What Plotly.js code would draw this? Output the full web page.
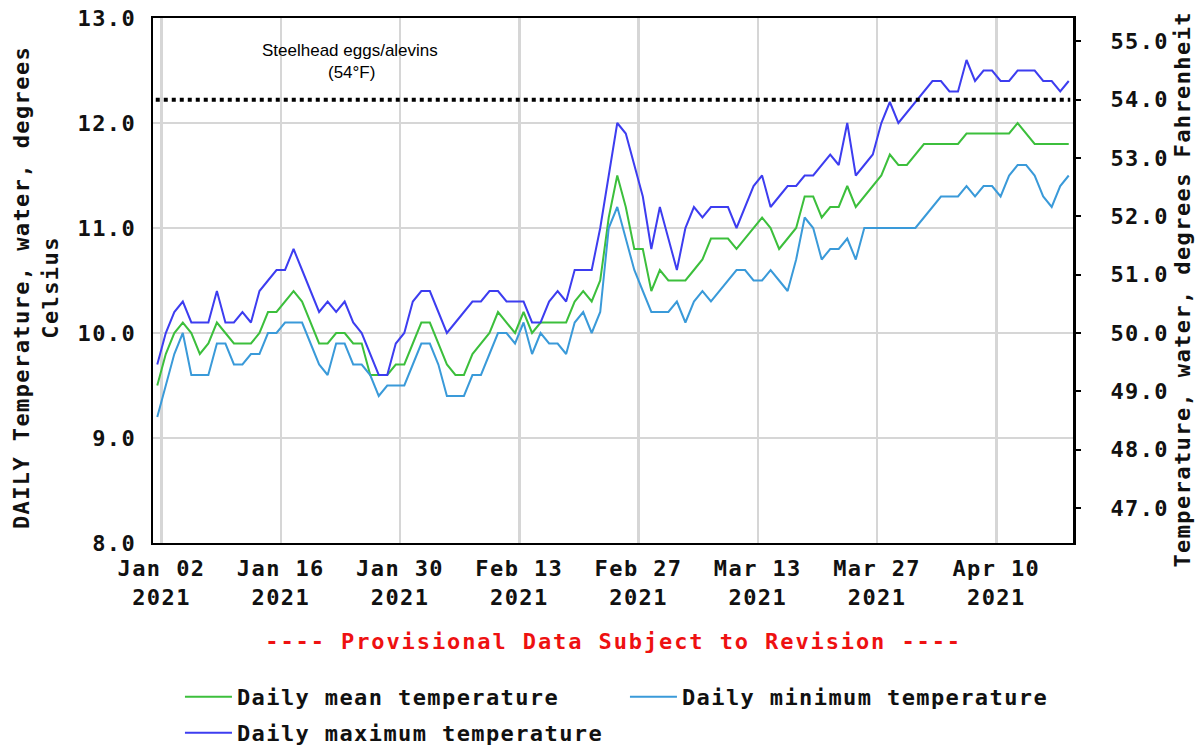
<!DOCTYPE html>
<html>
<head>
<meta charset="utf-8">
<script src="https://cdn.plot.ly/plotly-3.0.1.min.js"></script>
<style>
  html, body { margin: 0; padding: 0; background: #fff; }
  #chart { width: 1197px; height: 748px; }
  .xtick text, .ytick text, .y2tick text, text.legendtext, .legend2 text { letter-spacing: 1.4px; }
  .annotation[data-index="0"] text, .annotation[data-index="1"] text { letter-spacing: 1.4px; }
  .annotation[data-index="2"] text { letter-spacing: 1.9px; }
</style>
</head>
<body>
<div id="chart"></div>
<script>
// Daily values, Jan 01 2021 .. Apr 18 2021 (degrees Celsius)
const startDate = '2021-01-01';
const meanTemp = [
  9.5, 9.8, 10.0, 10.1, 10.0, 9.8, 9.9, 10.1, 10.0, 9.9,
  9.9, 9.9, 10.0, 10.2, 10.2, 10.3, 10.4, 10.3, 10.1, 9.9,
  9.9, 10.0, 10.0, 9.9, 9.9, 9.6, 9.6, 9.6, 9.7, 9.7,
  9.9, 10.1, 10.1, 9.9, 9.7, 9.6, 9.6, 9.8, 9.9, 10.0,
  10.2, 10.1, 10.0, 10.2, 10.0, 10.1, 10.1, 10.1, 10.1, 10.3,
  10.4, 10.3, 10.5, 11.1, 11.5, 11.2, 10.8, 10.8, 10.4, 10.6,
  10.5, 10.5, 10.5, 10.6, 10.7, 10.9, 10.9, 10.9, 10.8, 10.9,
  11.0, 11.1, 11.0, 10.8, 10.9, 11.0, 11.3, 11.3, 11.1, 11.2,
  11.2, 11.4, 11.2, 11.3, 11.4, 11.5, 11.7, 11.6, 11.6, 11.7,
  11.8, 11.8, 11.8, 11.8, 11.8, 11.9, 11.9, 11.9, 11.9, 11.9,
  11.9, 12.0, 11.9, 11.8, 11.8, 11.8, 11.8, 11.8
];
const minTemp = [
  9.2, 9.5, 9.8, 10.0, 9.6, 9.6, 9.6, 9.9, 9.9, 9.7,
  9.7, 9.8, 9.8, 10.0, 10.0, 10.1, 10.1, 10.1, 9.9, 9.7,
  9.6, 9.9, 9.9, 9.7, 9.7, 9.6, 9.4, 9.5, 9.5, 9.5,
  9.7, 9.9, 9.9, 9.7, 9.4, 9.4, 9.4, 9.6, 9.6, 9.8,
  10.0, 10.0, 9.9, 10.1, 9.8, 10.0, 9.9, 9.9, 9.8, 10.1,
  10.2, 10.0, 10.2, 11.0, 11.2, 10.9, 10.6, 10.4, 10.2, 10.2,
  10.2, 10.3, 10.1, 10.3, 10.4, 10.3, 10.4, 10.5, 10.6, 10.6,
  10.5, 10.5, 10.6, 10.5, 10.4, 10.7, 11.1, 11.0, 10.7, 10.8,
  10.8, 10.9, 10.7, 11.0, 11.0, 11.0, 11.0, 11.0, 11.0, 11.0,
  11.1, 11.2, 11.3, 11.3, 11.3, 11.4, 11.3, 11.4, 11.4, 11.3,
  11.5, 11.6, 11.6, 11.5, 11.3, 11.2, 11.4, 11.5
];
const maxTemp = [
  9.7, 10.0, 10.2, 10.3, 10.1, 10.1, 10.1, 10.4, 10.1, 10.1,
  10.2, 10.1, 10.4, 10.5, 10.6, 10.6, 10.8, 10.6, 10.4, 10.2,
  10.3, 10.2, 10.3, 10.1, 10.0, 9.8, 9.6, 9.6, 9.9, 10.0,
  10.3, 10.4, 10.4, 10.2, 10.0, 10.1, 10.2, 10.3, 10.3, 10.4,
  10.4, 10.3, 10.3, 10.3, 10.1, 10.1, 10.3, 10.4, 10.3, 10.6,
  10.6, 10.6, 11.0, 11.5, 12.0, 11.9, 11.6, 11.3, 10.8, 11.2,
  10.9, 10.6, 11.0, 11.2, 11.1, 11.2, 11.2, 11.2, 11.0, 11.2,
  11.4, 11.5, 11.2, 11.3, 11.4, 11.4, 11.5, 11.5, 11.6, 11.7,
  11.6, 12.0, 11.5, 11.6, 11.7, 12.0, 12.2, 12.0, 12.1, 12.2,
  12.3, 12.4, 12.4, 12.3, 12.3, 12.6, 12.4, 12.5, 12.5, 12.4,
  12.4, 12.5, 12.5, 12.5, 12.4, 12.4, 12.3, 12.4
];
const tickDates = ['2021-01-02','2021-01-16','2021-01-30','2021-02-13','2021-02-27','2021-03-13','2021-03-27','2021-04-10'];
const tickLabels = ['Jan 02<br>2021','Jan 16<br>2021','Jan 30<br>2021','Feb 13<br>2021','Feb 27<br>2021','Mar 13<br>2021','Mar 27<br>2021','Apr 10<br>2021'];
const seriesNames = ['Daily mean temperature', 'Daily minimum temperature', 'Daily maximum temperature'];
const thresholdF = 54;
const thresholdLabel = 'Steelhead eggs/alevins';
const thresholdSub = '(54°F)';

// daily values plotted at noon of each day
const dates = meanTemp.map((_, i) => {
  const d = new Date(Date.UTC(2021, 0, 1 + i, 12));
  return d.toISOString().slice(0, 19).replace('T', ' ');
});

const mono = 'DejaVu Sans Mono, monospace';
const fs = 22;
const monoFont = (c) => ({ family: mono, size: fs, color: c || '#111', weight: 'bold' });
const spaced = s => '<span style="letter-spacing:1.4px">' + s + '</span>';
const fC = v => (v - 32) * 5 / 9;
const cF = v => v * 9 / 5 + 32;
const yRange = [8, 13];

const traces = [
  { x: dates, y: meanTemp, name: spaced(seriesNames[0]), type: 'scatter', mode: 'lines',
    line: { color: '#3cbf3c', width: 2 }, hoverinfo: 'skip', legend: 'legend' },
  { x: dates, y: minTemp, name: spaced(seriesNames[1]), type: 'scatter', mode: 'lines',
    line: { color: '#3a9ad9', width: 2 }, hoverinfo: 'skip', legend: 'legend' },
  { x: dates, y: maxTemp, name: spaced(seriesNames[2]), type: 'scatter', mode: 'lines',
    line: { color: '#3d3df0', width: 2 }, hoverinfo: 'skip', legend: 'legend2' },
  { x: [], y: [], yaxis: 'y2', showlegend: false, type: 'scatter', mode: 'lines', hoverinfo: 'skip' }
];

const legendBase = {
  orientation: 'h', x: 0.0293, xanchor: 'left', yanchor: 'top',
  entrywidth: 383, entrywidthmode: 'pixels', itemwidth: 47,
  traceorder: 'normal', font: monoFont(), bgcolor: 'rgba(0,0,0,0)'
};

const layout = {
  width: 1197, height: 748,
  margin: { l: 153, r: 124, t: 18, b: 205, autoexpand: false },
  paper_bgcolor: '#fff', plot_bgcolor: '#fff',
  showlegend: true,
  font: monoFont(),
  xaxis: {
    type: 'date',
    range: ['2021-01-01', '2021-04-19'],
    tickvals: tickDates, ticktext: tickLabels,
    showgrid: true, gridcolor: '#d6d6d6', gridwidth: 2.5,
    showline: true, mirror: true, linecolor: '#000', linewidth: 2,
    ticks: '', zeroline: false,
    tickfont: monoFont(),
    ticklabelstandoff: 5
  },
  yaxis: {
    range: yRange, dtick: 1, tick0: 8, tickformat: '.1f',
    showgrid: true, gridcolor: '#d6d6d6', gridwidth: 2.5,
    showline: true, mirror: true, linecolor: '#000', linewidth: 2.5,
    ticks: '', zeroline: false,
    tickfont: monoFont(),
    ticklabelstandoff: 10
  },
  yaxis2: {
    overlaying: 'y', side: 'right', anchor: 'x',
    range: yRange.map(cF), tick0: 47, dtick: 1, tickformat: '.1f',
    showgrid: false, zeroline: false, showline: false,
    ticks: 'outside', ticklen: 7, tickwidth: 2, tickcolor: '#000',
    tickfont: monoFont(),
    ticklabelstandoff: 25
  },
  legend: Object.assign({}, legendBase, { y: -0.2533 }),
  legend2: Object.assign({}, legendBase, { y: -0.3219 }),
  shapes: [
    { type: 'line', xref: 'paper', x0: 0.003, x1: 0.997, yref: 'y', y0: fC(thresholdF), y1: fC(thresholdF),
      line: { color: '#000', width: 4, dash: 'dot' } }
  ],
  annotations: [
    { text: 'DAILY Temperature, water, degrees<br>Celsius', textangle: -90,
      xref: 'paper', yref: 'paper', x: -0.127, y: 0.486, xanchor: 'center', yanchor: 'middle',
      showarrow: false, font: monoFont() },
    { text: 'Temperature, water, degrees Fahrenheit', textangle: -90,
      xref: 'paper', yref: 'paper', x: 1.1196, y: 0.482, xanchor: 'center', yanchor: 'middle',
      showarrow: false, font: monoFont() },
    { text: '---- Provisional Data Subject to Revision ----',
      xref: 'paper', yref: 'paper', x: 0.501, y: -0.1867, xanchor: 'center', yanchor: 'middle',
      showarrow: false, font: monoFont('#ee1111') },
    { text: thresholdLabel,
      xref: 'paper', yref: 'paper', x: 0.214, y: (543 - 50) / 525, xanchor: 'center', yanchor: 'middle',
      showarrow: false, font: { family: 'Liberation Sans, Arial, sans-serif', size: 17, color: '#000', weight: 'normal' } },
    { text: thresholdSub,
      xref: 'paper', yref: 'paper', x: 0.216, y: (543 - 73) / 525, xanchor: 'center', yanchor: 'middle',
      showarrow: false, font: { family: 'Liberation Sans, Arial, sans-serif', size: 17, color: '#000', weight: 'normal' } }
  ]
};

Plotly.newPlot('chart', traces, layout, { displayModeBar: false, staticPlot: true });
</script>
</body>
</html>
